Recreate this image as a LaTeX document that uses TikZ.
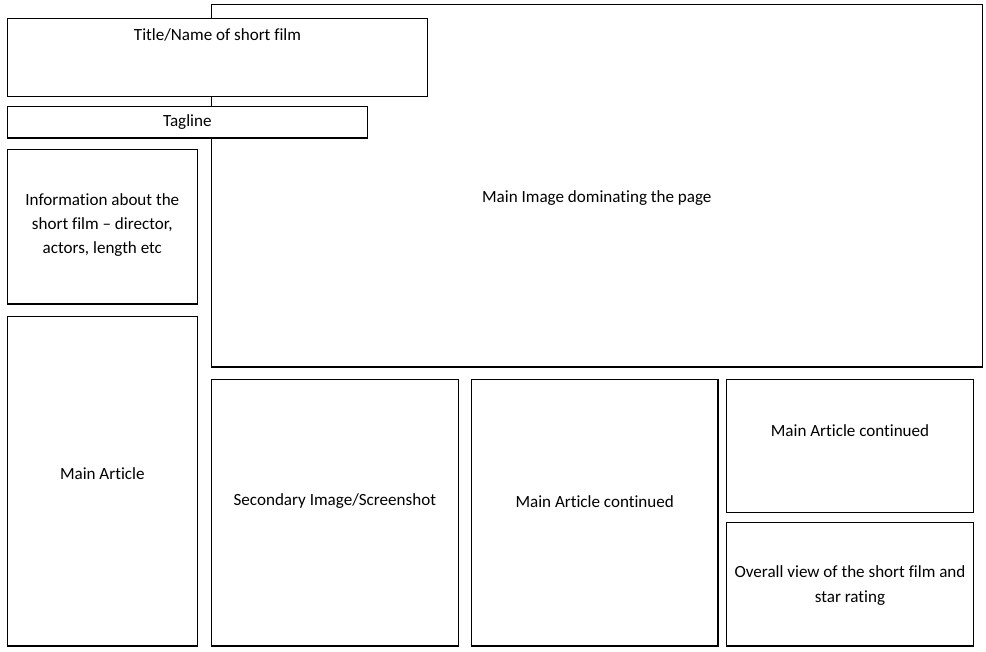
\documentclass[tikz,border=0pt]{standalone}
\usepackage{fontspec}
\setmainfont[Ligatures=NoCommon]{Carlito}
\begin{document}
\begin{tikzpicture}[x=0.75pt,y=-0.75pt,
  box/.style={draw=black,fill=white,line width=0.9pt},
  lbl/.style={inner sep=0pt,align=center,font=\fontsize{12.8}{18.2}\selectfont,text=black}]
\useasboundingbox[fill=white] (0,0) rectangle (986,651);
% main image
\path[box] (211.3,4.7) rectangle (982.3,367);
\node[lbl] (mainimg) at (596.8,198) {Main Image dominating the page};
% title
\path[box] (7.3,18.3) rectangle (427.7,96.3);
\node[lbl] (title) at (217.5,34.5) {Title/Name of short film};
% tagline
\path[box] (7.3,106.7) rectangle (367.3,138);
\node[lbl] (tagline) at (187.3,122.5) {Tagline};
% info
\path[box] (7.3,149.3) rectangle (197.3,304);
\node[lbl] (info) at (102.3,225) {Information about the\\short film -- director,\\actors, length etc};
% main article
\path[box] (7.3,316.7) rectangle (197.3,646);
\node[lbl] (mainart) at (102.3,473.5) {Main Article};
% secondary
\path[box] (211.3,379.3) rectangle (458.3,646);
\node[lbl] (second) at (334.8,501.5) {Secondary Image/Screenshot};
% main article continued (middle)
\path[box] (471.3,379.3) rectangle (718,646);
\node[lbl] (macont) at (594.7,501.5) {Main Article continued};
% main article continued (right)
\path[box] (726.3,379.3) rectangle (973.7,512.7);
\node[lbl] (macont2) at (850,430.5) {Main Article continued};
% overall view
\path[box] (726.3,522.3) rectangle (973.7,646);
\node[lbl] (overall) at (850,585.5) {Overall view of the short film and\\star rating};
\end{tikzpicture}
\end{document}
